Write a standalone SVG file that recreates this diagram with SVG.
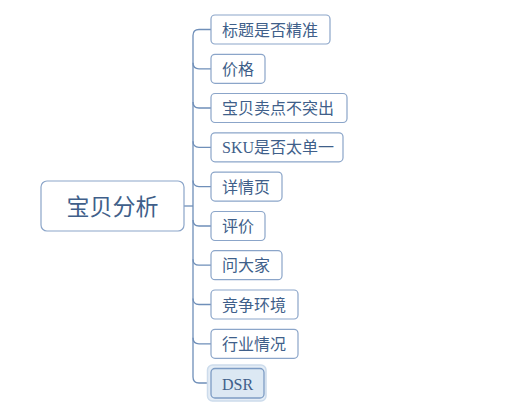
<svg xmlns="http://www.w3.org/2000/svg" width="532" height="407" viewBox="0 0 532 407">
<style>
.box{fill:#ffffff;stroke:#8ba5c9;stroke-width:1.2}
.t{font-family:"Liberation Serif","Noto Sans CJK SC",serif;font-size:16px;fill:#3f5f8a;dominant-baseline:central}
.conn{fill:none;stroke:#6f8fb9;stroke-width:1.3}
</style>
<rect width="532" height="407" fill="#ffffff"/>
<g id="connectors">
<path class="conn" d="M184,206 H193"/>
<path class="conn" d="M211,29.5 H199 Q193,29.5 193,35.5 V377 Q193,383 199,383 H211"/>
<path class="conn" d="M193,62.8 Q193,68.8 199,68.8 H211"/>
<path class="conn" d="M193,102 Q193,108 199,108 H211"/>
<path class="conn" d="M193,141.3 Q193,147.3 199,147.3 H211"/>
<path class="conn" d="M193,180.6 Q193,186.6 199,186.6 H211"/>
<path class="conn" d="M193,220 Q193,226 199,226 H211"/>
<path class="conn" d="M193,259.2 Q193,265.2 199,265.2 H211"/>
<path class="conn" d="M193,298.5 Q193,304.5 199,304.5 H211"/>
<path class="conn" d="M193,337.8 Q193,343.8 199,343.8 H211"/>
</g>
<g id="root">
<rect class="box" x="41" y="181" width="143" height="50" rx="6"/>
<text class="t" x="112.5" y="207" text-anchor="middle" style="font-size:23px">宝贝分析</text>
</g>
<g id="n1"><rect class="box" x="211" y="15" width="119" height="29" rx="4"/><text class="t" x="222" y="30">标题是否精准</text></g>
<g id="n2"><rect class="box" x="211" y="54.3" width="54" height="29" rx="4"/><text class="t" x="222" y="69.3">价格</text></g>
<g id="n3"><rect class="box" x="211" y="93.5" width="136" height="29" rx="4"/><text class="t" x="222" y="108.5">宝贝卖点不突出</text></g>
<g id="n4"><rect class="box" x="211" y="132.8" width="132" height="29" rx="4"/><text class="t" x="222" y="147.8">SKU是否太单一</text></g>
<g id="n5"><rect class="box" x="211" y="172.1" width="71" height="29" rx="4"/><text class="t" x="222" y="187.1">详情页</text></g>
<g id="n6"><rect class="box" x="211" y="211.5" width="54" height="29" rx="4"/><text class="t" x="222" y="226.5">评价</text></g>
<g id="n7"><rect class="box" x="211" y="250.7" width="71" height="29" rx="4"/><text class="t" x="222" y="265.7">问大家</text></g>
<g id="n8"><rect class="box" x="211" y="290" width="87" height="29" rx="4"/><text class="t" x="222" y="305">竞争环境</text></g>
<g id="n9"><rect class="box" x="211" y="329.3" width="87" height="29" rx="4"/><text class="t" x="222" y="344.3">行业情况</text></g>
<g id="n10">
<rect x="207.5" y="365" width="58.5" height="36" rx="5" fill="#e4edf6" stroke="#cddcec" stroke-width="1.5"/>
<rect x="211" y="368.5" width="53" height="29.5" rx="4" fill="#dce8f3" stroke="#7d9cc4" stroke-width="1.3"/>
<text class="t" x="237.5" y="384" text-anchor="middle">DSR</text>
</g>
</svg>
